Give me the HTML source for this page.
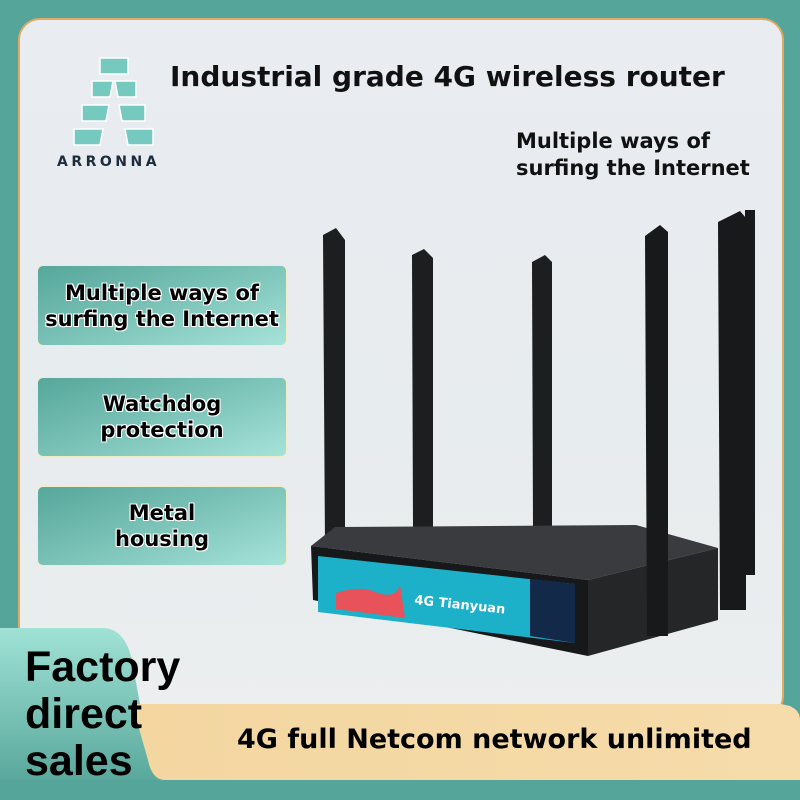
<!DOCTYPE html>
<html><head><meta charset="utf-8"><style>
*{margin:0;padding:0;box-sizing:border-box}
body{width:800px;height:800px;overflow:hidden;background:#55a59a;position:relative;font-family:"DejaVu Sans","Liberation Sans",sans-serif;font-weight:bold}
.panel{position:absolute;left:18px;top:18px;width:766px;height:700px;border:2px solid #e0ab63;border-radius:22px;background:linear-gradient(180deg,#e9ecf1,#e7ecee 60%,#eceeef)}
.box{position:absolute;left:37px;width:250px;border-radius:6px;border:1.5px solid #f1ecc6;background:linear-gradient(160deg,#56a79b 0%,#7cc3b8 50%,#a6e3d9 100%);display:flex;align-items:center;justify-content:center;text-align:center;font-size:21px;line-height:26px;color:#000;text-shadow:1px 1px 0 #fff,-1px -1px 0 #fff,1px -1px 0 #fff,-1px 1px 0 #fff,0 1px 0 #fff,0 -1px 0 #fff,1px 0 0 #fff,-1px 0 0 #fff}
.t{position:absolute;color:#111;white-space:nowrap}
</style></head><body>
<div class="panel"></div>
<svg style="position:absolute;left:0;top:0" width="800" height="800">
<g fill="#76c9bf" stroke="#fff" stroke-width="1.5">
<rect x="100" y="58" width="28" height="16"/>
<polygon points="92,81 113,81 110,97 92,97"/><polygon points="115,81 136,81 136,97 118,97"/>
<polygon points="82,105 109,105 106,121 82,121"/><polygon points="119,105 145,105 145,121 122,121"/>
<polygon points="74,129 103,129 100,145 74,145"/><polygon points="125,129 153,129 153,145 128,145"/>
</g>
<text x="57" y="166" font-family="DejaVu Sans" font-size="14" font-weight="bold" fill="#1e2b3a" letter-spacing="3.5">ARRONNA</text>
<g fill="#1d1e20">
<polygon points="323,235 336,228 345,240 345,548 325,548"/>
<polygon points="412,255 424,249 433,258 433,530 413,530"/>
<polygon points="532,262 545,255 552,262 552,530 533,530"/>
</g>
<polygon points="311,546 335,527 636,525 718,548 588,580" fill="#3a3b3e"/>
<polygon points="311,546 588,580 588,656 313,600" fill="#17181a"/>
<polygon points="588,580 718,548 718,620 588,656" fill="#252628"/>
<polygon points="318,556 575,584 575,643 318,612" fill="#1cb0c9"/>
<polygon points="530,579 575,584 575,643 530,636" fill="#13294a"/>
<path d="M336,593 Q360,585 375,592 Q395,600 400,585 L405,618 L336,609Z" fill="#e8525a"/>
<text x="414" y="604" font-size="13" fill="#fff" transform="rotate(6 414 604)">4G Tianyuan</text>
<g fill="#18191b">
<polygon points="645,236 660,225 668,232 668,636 647,636"/>
<polygon points="718,222 740,211 746,218 746,610 720,610"/>
<rect x="745" y="210" width="10" height="365"/>
</g>
<defs><linearGradient id="g1" x1="0" y1="0" x2="0" y2="1"><stop offset="0" stop-color="#a0e2d6"/><stop offset="1" stop-color="#5aa89c"/></linearGradient>
<linearGradient id="g2" x1="0" y1="0" x2="1" y2="0"><stop offset="0" stop-color="#f3d6a0"/><stop offset="1" stop-color="#f6dcab"/></linearGradient></defs>
<path d="M0,628 L105,628 Q125,630 132,660 L150,760 Q155,780 185,780 L0,780Z" fill="url(#g1)"/>
<path d="M132,704 L780,704 Q800,706 800,720 L800,780 L165,780 Q152,780 148,760Z" fill="url(#g2)"/>
</svg>
<div class="t" style="left:170px;top:60px;font-size:28px">Industrial grade 4G wireless router</div>
<div class="t" style="left:516px;top:128px;font-size:21px;line-height:27px">Multiple ways of<br>surfing the Internet</div>
<div class="box" style="top:265px;height:81px">Multiple ways of<br>surfing the Internet</div>
<div class="box" style="top:377px;height:80px">Watchdog<br>protection</div>
<div class="box" style="top:486px;height:80px">Metal<br>housing</div>
<div class="t" style="left:25px;top:644px;font-size:43px;line-height:47px;color:#000;font-family:'Liberation Sans',sans-serif">Factory<br>direct<br>sales</div>
<div class="t" style="left:237px;top:724px;font-size:27px;color:#000">4G full Netcom network unlimited</div>
</body></html>
